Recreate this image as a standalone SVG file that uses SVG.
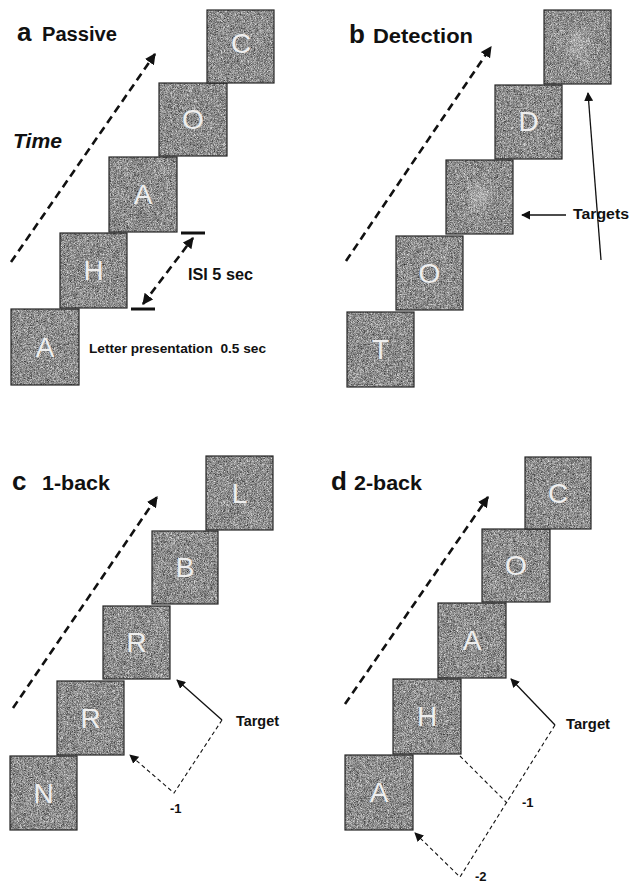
<svg xmlns="http://www.w3.org/2000/svg" width="629" height="883" viewBox="0 0 629 883">
<style>
.sq{filter:url(#nz);}
.bd{fill:none;stroke:#262626;stroke-width:1.2;}
.lt{font-family:"Liberation Sans",Arial,sans-serif;font-size:28px;fill:#eeeeee;text-anchor:middle;}
.t{font-family:"Liberation Sans",Arial,sans-serif;font-weight:bold;fill:#111;}
.big{stroke:#111;stroke-width:2.6;stroke-dasharray:8 5;fill:none;}
.thin{stroke:#111;stroke-width:1.1;stroke-dasharray:4 3;fill:none;}
.sol{stroke:#111;stroke-width:1.3;fill:none;}
.bar{stroke:#111;stroke-width:3;}
</style>
<defs>
<filter id="nz" x="0" y="0" width="1" height="1" color-interpolation-filters="sRGB">
<feTurbulence type="fractalNoise" baseFrequency="1.7" numOctaves="1" seed="7"/>
<feColorMatrix type="saturate" values="0"/>
<feComponentTransfer>
<feFuncR type="linear" slope="1.45" intercept="-0.17"/>
<feFuncG type="linear" slope="1.45" intercept="-0.17"/>
<feFuncB type="linear" slope="1.45" intercept="-0.17"/>
<feFuncA type="table" tableValues="1 1"/>
</feComponentTransfer>
</filter>
<radialGradient id="blob">
<stop offset="0" stop-color="#fff" stop-opacity="0.3"/>
<stop offset="1" stop-color="#fff" stop-opacity="0"/>
</radialGradient>
<marker id="ah" viewBox="0 0 10 10" refX="9" refY="5" markerWidth="11" markerHeight="11" markerUnits="userSpaceOnUse" orient="auto-start-reverse">
<path d="M0,0 L10,5 L0,10 z" fill="#111"/>
</marker>
<marker id="ahs" viewBox="0 0 10 10" refX="9" refY="5" markerWidth="9" markerHeight="9" markerUnits="userSpaceOnUse" orient="auto">
<path d="M0,0 L10,5 L0,10 z" fill="#111"/>
</marker>
</defs>
<rect width="629" height="883" fill="#fff"/>

<!-- Panel a -->
<g id="a-title"><text class="t" x="17" y="41" font-size="26">a</text><text class="t" x="42" y="41" font-size="20" textLength="75" lengthAdjust="spacingAndGlyphs">Passive</text></g>
<g id="a-time"><text class="t" x="13" y="148" font-size="20" font-style="italic" textLength="49" lengthAdjust="spacingAndGlyphs">Time</text></g>
<g id="a1"><rect class="sq" x="11" y="309" width="68" height="76"/><rect class="bd" x="11" y="309" width="68" height="76"/><text class="lt" x="45" y="357">A</text></g>
<g id="a2"><rect class="sq" x="60" y="233" width="67" height="75"/><rect class="bd" x="60" y="233" width="67" height="75"/><text class="lt" x="93.5" y="280">H</text></g>
<g id="a3"><rect class="sq" x="109" y="157" width="68" height="75"/><rect class="bd" x="109" y="157" width="68" height="75"/><text class="lt" x="143" y="204">A</text></g>
<g id="a4"><rect class="sq" x="159" y="83" width="68" height="73"/><rect class="bd" x="159" y="83" width="68" height="73"/><text class="lt" x="193" y="129">O</text></g>
<g id="a5"><rect class="sq" x="207" y="10" width="67" height="73"/><rect class="bd" x="207" y="10" width="67" height="73"/><text class="lt" x="241" y="53">C</text></g>
<g id="a-isi"><text class="t" x="188" y="280" font-size="17" textLength="65" lengthAdjust="spacingAndGlyphs">ISI 5 sec</text></g>
<g id="a-letter"><text class="t" x="89" y="353" font-size="12.5" textLength="177" lengthAdjust="spacingAndGlyphs" xml:space="preserve">Letter presentation  0.5 sec</text></g>

<!-- Panel b -->
<g id="b-title"><text class="t" x="349" y="43" font-size="26">b</text><text class="t" x="373" y="43" font-size="20" textLength="100" lengthAdjust="spacingAndGlyphs">Detection</text></g>
<g id="b1"><rect class="sq" x="347" y="312" width="67" height="75"/><rect class="bd" x="347" y="312" width="67" height="75"/><text class="lt" x="380.5" y="359">T</text></g>
<g id="b2"><rect class="sq" x="396" y="236" width="67" height="74"/><rect class="bd" x="396" y="236" width="67" height="74"/><text class="lt" x="429.5" y="283">O</text></g>
<g id="b3"><rect class="sq" x="446" y="160" width="67" height="74"/><ellipse cx="480" cy="196" rx="18" ry="20" fill="url(#blob)"/><rect class="bd" x="446" y="160" width="67" height="74"/></g>
<g id="b4"><rect class="sq" x="495" y="85" width="67" height="74"/><rect class="bd" x="495" y="85" width="67" height="74"/><text class="lt" x="528.5" y="131">D</text></g>
<g id="b5"><rect class="sq" x="544" y="10" width="67" height="74"/><ellipse cx="579" cy="44" rx="18" ry="20" fill="url(#blob)"/><rect class="bd" x="544" y="10" width="67" height="74"/></g>
<g id="b-targets"><text class="t" x="573" y="219" font-size="14" textLength="56" lengthAdjust="spacingAndGlyphs">Targets</text></g>

<!-- Panel c -->
<g id="c-title"><text class="t" x="12" y="490" font-size="26">c</text><text class="t" x="42" y="490" font-size="20" textLength="68" lengthAdjust="spacingAndGlyphs">1-back</text></g>
<g id="c1"><rect class="sq" x="10" y="756" width="67" height="74"/><rect class="bd" x="10" y="756" width="67" height="74"/><text class="lt" x="43.5" y="803">N</text></g>
<g id="c2"><rect class="sq" x="57" y="681" width="67" height="74"/><rect class="bd" x="57" y="681" width="67" height="74"/><text class="lt" x="90.5" y="728">R</text></g>
<g id="c3"><rect class="sq" x="103" y="606" width="67" height="73"/><rect class="bd" x="103" y="606" width="67" height="73"/><text class="lt" x="136.5" y="652">R</text></g>
<g id="c4"><rect class="sq" x="152" y="531" width="66" height="73"/><rect class="bd" x="152" y="531" width="66" height="73"/><text class="lt" x="185" y="577">B</text></g>
<g id="c5"><rect class="sq" x="206" y="456" width="67" height="74"/><rect class="bd" x="206" y="456" width="67" height="74"/><text class="lt" x="239.5" y="503">L</text></g>
<g id="c-target"><text class="t" x="236" y="726" font-size="14" textLength="43" lengthAdjust="spacingAndGlyphs">Target</text></g>
<g id="c-m1"><text class="t" x="170" y="813" font-size="13">-1</text></g>

<!-- Panel d -->
<g id="d-title"><text class="t" x="331" y="490" font-size="26">d</text><text class="t" x="354" y="490" font-size="20" textLength="68" lengthAdjust="spacingAndGlyphs">2-back</text></g>
<g id="d1"><rect class="sq" x="345" y="755" width="68" height="75"/><rect class="bd" x="345" y="755" width="68" height="75"/><text class="lt" x="379" y="802">A</text></g>
<g id="d2"><rect class="sq" x="393" y="679" width="68" height="75"/><rect class="bd" x="393" y="679" width="68" height="75"/><text class="lt" x="427" y="726">H</text></g>
<g id="d3"><rect class="sq" x="438" y="603" width="68" height="75"/><rect class="bd" x="438" y="603" width="68" height="75"/><text class="lt" x="472" y="650">A</text></g>
<g id="d4"><rect class="sq" x="482" y="529" width="68" height="73"/><rect class="bd" x="482" y="529" width="68" height="73"/><text class="lt" x="516" y="575">O</text></g>
<g id="d5"><rect class="sq" x="525" y="457" width="66" height="72"/><rect class="bd" x="525" y="457" width="66" height="72"/><text class="lt" x="558" y="503">C</text></g>
<g id="d-target"><text class="t" x="566" y="729" font-size="14" textLength="44" lengthAdjust="spacingAndGlyphs">Target</text></g>
<g id="d-m1"><text class="t" x="522" y="807" font-size="13">-1</text></g>
<g id="d-m2"><text class="t" x="475" y="881" font-size="13">-2</text></g>

<!-- Connectors -->
<g id="connectors">
<line class="big" x1="11" y1="262" x2="155" y2="54" marker-end="url(#ah)"/>
<line class="big" x1="143" y1="304" x2="193" y2="238" marker-start="url(#ah)" marker-end="url(#ah)"/>
<line class="bar" x1="181" y1="233" x2="205" y2="233"/>
<line class="bar" x1="131" y1="309" x2="155" y2="309"/>
<line class="big" x1="346" y1="261" x2="491" y2="47" marker-end="url(#ah)"/>
<line class="sol" x1="566" y1="215" x2="522" y2="215" marker-end="url(#ahs)"/>
<line class="sol" x1="601" y1="260" x2="588" y2="93" marker-end="url(#ahs)"/>
<line class="big" x1="13" y1="708" x2="157" y2="497" marker-end="url(#ah)"/>
<line class="sol" x1="222" y1="720" x2="177" y2="680" marker-end="url(#ahs)"/>
<polyline class="thin" points="222,720 174,793 130,755" marker-end="url(#ahs)"/>
<line class="big" x1="345" y1="704" x2="488" y2="497" marker-end="url(#ah)"/>
<line class="sol" x1="555" y1="725" x2="511" y2="679" marker-end="url(#ahs)"/>
<polyline class="thin" points="555,725 460,877 415,833" marker-end="url(#ahs)"/>
<line class="thin" x1="460" y1="756" x2="507" y2="803"/>
</g>
</svg>
